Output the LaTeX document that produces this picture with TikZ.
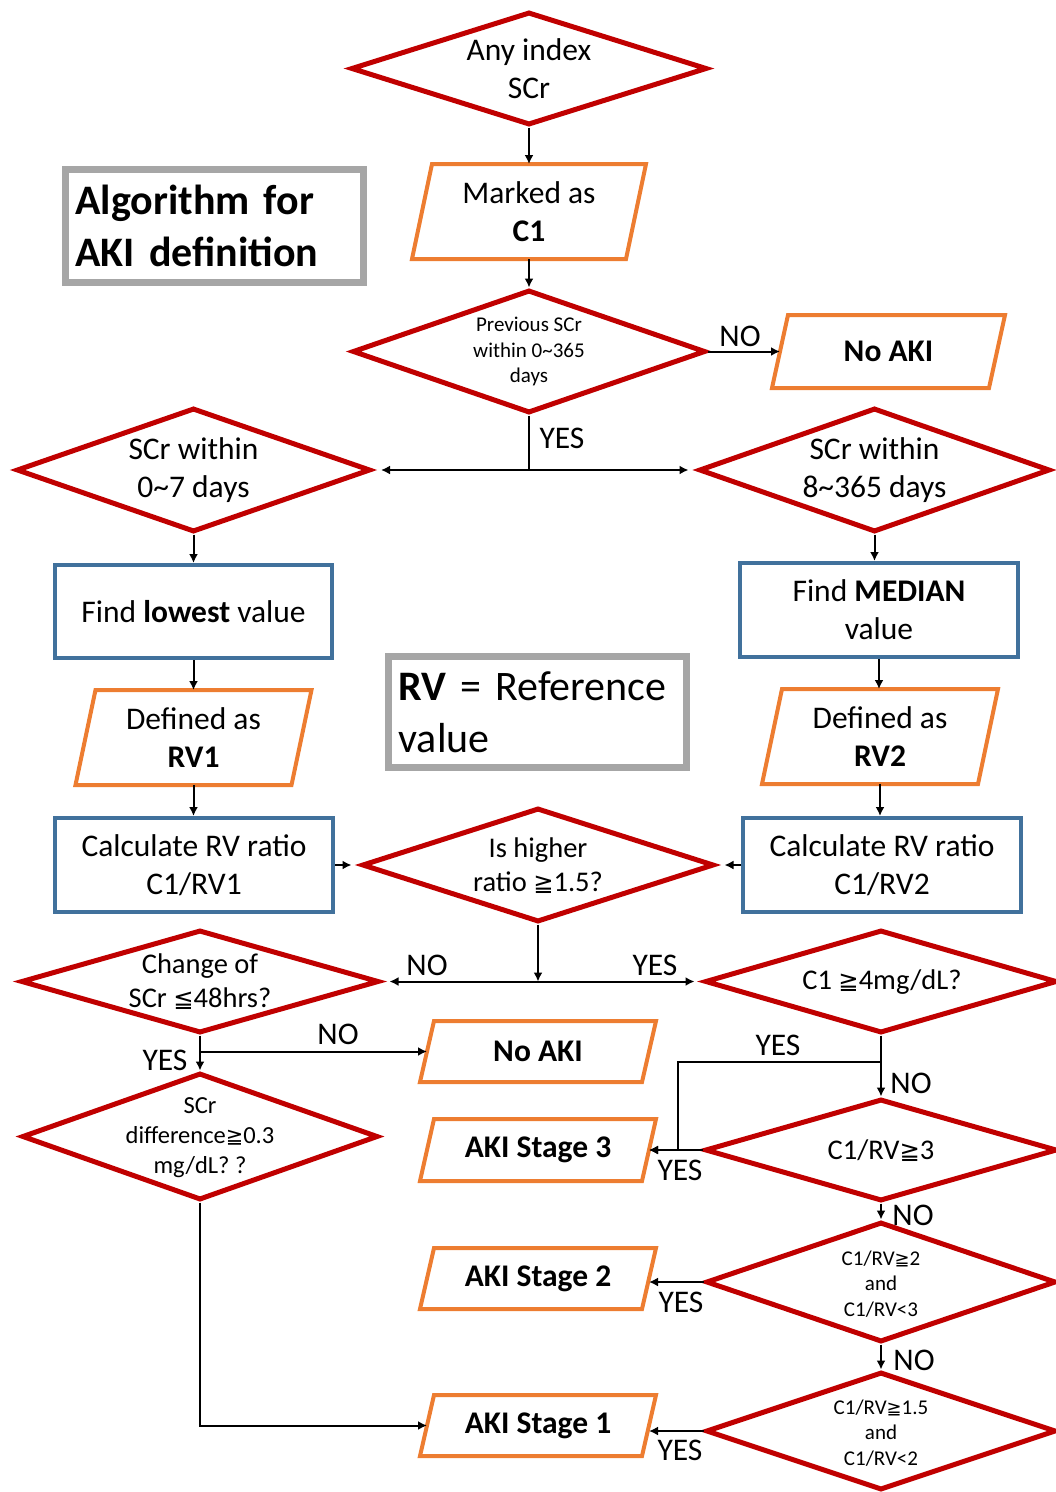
\documentclass[tikz,border=0pt]{standalone}
\usepackage{fontspec}
\setmainfont{Carlito}
\newfontfamily\GeFont[Scale=0.85]{DejaVu Sans}
\usetikzlibrary{shapes.geometric,arrows.meta,calc}
\definecolor{dred}{HTML}{C00000}
\definecolor{orng}{HTML}{ED7D31}
\definecolor{sblue}{HTML}{41719C}
\definecolor{lgray}{HTML}{A6A6A6}
\newcommand\GEQ{{\GeFont\char"2267}}
\newcommand\LEQ{{\GeFont\char"2266}}
\newcommand\FsMain{\fontsize{31.5}{38}\selectfont}
\newcommand\FsMid{\fontsize{28.5}{34}\selectfont}
\newcommand\FsDiff{\fontsize{24.5}{30}\selectfont}
\newcommand\FsSmall{\fontsize{21}{25.5}\selectfont}
\newcommand\FsBig{\fontsize{42}{52}\selectfont}
\newcommand\PARA[2]{\draw[draw=orng,line width=4pt] ($(#1.south west)+(-#2,0)$) -- ($(#1.south east)+(-#2,0)$) -- ($(#1.north east)+(#2,0)$) -- ($(#1.north west)+(#2,0)$) -- cycle;}
\begin{document}
\begin{tikzpicture}[x=1pt,y=-1pt,
  dshape/.style 2 args={shape=diamond,draw=dred,line width=5pt,inner sep=0pt,minimum width=#1,minimum height=#2},
  dtext/.style={align=center,inner sep=0pt},
  pshape/.style 2 args={shape=rectangle,inner sep=0pt,outer sep=0pt,minimum width=#1,minimum height=#2,align=center,font=\FsMain},
  bshape/.style 2 args={shape=rectangle,draw=sblue,line width=4pt,inner sep=0pt,minimum width=#1,minimum height=#2,align=center,font=\FsMain},
  gshape/.style={shape=rectangle,draw=lgray,line width=7pt,inner xsep=10pt,inner ysep=0pt,text width=278pt,align=left,font=\FsBig},
  ln/.style={line width=2pt,draw=black},
  arr/.style={ln,-{Latex[length=9pt,width=9pt]}},
  tip/.style={shorten >=8pt},
  lab/.style={font=\FsMain,inner sep=0pt}]
\useasboundingbox (0,0) rectangle (1056,1492);

% shapes
\node[dshape={356pt}{113pt}] (any) at (529,68.5) {};
\node[dtext,font=\FsMain] (anyT) at (any) {Any index\\SCr};
\node[pshape={214pt}{95pt}] (mark) at (529,211.5) {Marked as\\\textbf{C1}};
\PARA{mark}{10}
\node[gshape,minimum height=113pt,font=\FsBig\bfseries] (algo) at (214.5,226) {Algorithm for\\AKI definition};
\node[dshape={353pt}{123pt}] (prev) at (529,351.5) {};
\node[dtext,font=\FsSmall] (prevT) at (prev) {Previous SCr\\within 0\textasciitilde365\\days};
\node[pshape={217pt}{73pt},font=\FsMain\bfseries] (noakiA) at (888.5,351.5) {No AKI};
\PARA{noakiA}{8}
\node[dshape={354pt}{124pt}] (d07) at (193.5,470) {};
\node[dtext,font=\FsMain] (d07T) at (d07) {SCr within\\0\textasciitilde7 days};
\node[dshape={351pt}{124pt}] (d8) at (874.5,470) {};
\node[dtext,font=\FsMain] (d8T) at (d8) {SCr within\\8\textasciitilde365 days};
\node[bshape={277pt}{93pt}] (low) at (193.5,611.5) {Find \textbf{lowest} value};
\node[bshape={278pt}{94pt}] (med) at (879,610) {Find \textbf{MEDIAN}\\value};
\node[pshape={216pt}{95pt}] (rv1) at (193.5,737.5) {Defined as\\\textbf{RV1}};
\PARA{rv1}{10}
\node[pshape={216pt}{95pt}] (rv2) at (880,736.5) {Defined as\\\textbf{RV2}};
\PARA{rv2}{10}
\node[gshape,minimum height=111pt] (rvbox) at (537.5,712) {\textbf{RV} = Reference\\value};
\node[bshape={278pt}{94pt}] (calc1) at (194,865) {Calculate RV ratio\\C1/RV1};
\node[bshape={278pt}{94pt}] (calc2) at (882,865) {Calculate RV ratio\\C1/RV2};
\node[dshape={352pt}{114pt}] (hi) at (538,865) {};
\node[dtext,font=\FsMid] (hiT) at (538,866) {Is higher\\ratio \GEQ1.5?};
\node[dshape={358pt}{103pt}] (chg) at (200,981.5) {};
\node[dtext,font=\FsMid] (chgT) at (200,982) {Change of\\SCr \LEQ48hrs?};
\node[dshape={352pt}{103pt}] (c4) at (881,981.5) {};
\node[dtext,font=\FsMid] (c4T) at (882,982) {C1 \GEQ4mg/dL?};
\node[pshape={222pt}{61pt},font=\FsMain\bfseries] (noakiB) at (538,1051.5) {No AKI};
\PARA{noakiB}{7}
\node[dshape={356pt}{127pt}] (diff) at (200,1136.5) {};
\node[dtext,font=\FsDiff] (diffT) at (200,1138) {SCr\\difference\GEQ0.3\\mg/dL? ?};
\node[pshape={222pt}{62pt},font=\FsMain\bfseries] (aki3) at (538,1150) {AKI Stage 3};
\PARA{aki3}{7}
\node[dshape={352pt}{102pt}] (r3) at (881,1150) {};
\node[dtext,font=\FsMid] (r3T) at (881,1151) {C1/RV\GEQ3};
\node[pshape={222pt}{61pt},font=\FsMain\bfseries] (aki2) at (538,1278.5) {AKI Stage 2};
\PARA{aki2}{7}
\node[dshape={350pt}{120pt}] (r2) at (881,1282) {};
\node[dtext,font=\FsSmall] (r2T) at (881,1284) {C1/RV\GEQ2\\and\\C1/RV<3};
\node[pshape={222pt}{61pt},font=\FsMain\bfseries] (aki1) at (538,1425.5) {AKI Stage 1};
\PARA{aki1}{7}
\node[dshape={350pt}{118pt}] (r15) at (881,1431) {};
\node[dtext,font=\FsSmall] (r15T) at (881,1433) {C1/RV\GEQ1.5\\and\\C1/RV<2};

% junctions
\coordinate (j1) at (529,470);
\coordinate (j2) at (538,981.5);
\coordinate (j3) at (200,1051.5);
\coordinate (j4) at (881,1062);
\coordinate (k) at (678,1062);

% connectors
\draw[arr] (any.south) -- (mark.north);
\draw[arr] (mark.south) -- (prev.north);
\draw[arr] (prev.east) -- (noakiA.west);
\draw[ln] (prev.south) -- (j1);
\draw[arr,tip] (j1) -- (d07.east);
\draw[arr,tip] (j1) -- (d8.west);
\draw[arr] (d07.south) -- (low.north);
\draw[arr] (low.south) -- (low.south |- rv1.north);
\draw[arr] (rv1.south) -- (rv1.south |- calc1.north);
\draw[arr] (d8.south) -- (d8.south |- med.north);
\draw[arr] (med.south) -- (med.south |- rv2.north);
\draw[arr] (rv2.south) -- (rv2.south |- calc2.north);
\draw[arr,tip] (calc1.east) -- (hi.west);
\draw[arr,tip] (calc2.west) -- (hi.east);
\draw[arr] (hi.south) -- (j2);
\draw[arr,tip] (j2) -- (chg.east);
\draw[arr,tip] (j2) -- (c4.west);
\draw[arr] (chg.south) -- (diff.north);
\draw[arr] (j3) -- (noakiB.west);
\draw[arr] (diff.south) |- (aki1.west);
\draw[arr] (c4.south) -- (r3.north);
\draw[arr] (j4) -- (k) |- (aki3.east);
\draw[arr] (r3.west) -- (aki3.east);
\draw[arr] (r3.south) -- (r2.north);
\draw[arr] (r2.west) -- (aki2.east |- r2.west);
\draw[arr] (r2.south) -- (r15.north);
\draw[arr] (r15.west) -- (aki1.east |- r15.west);

% labels
\node[lab] (lNo1) at (740,336) {NO};
\node[lab] (lYes1) at (562,438) {YES};
\node[lab] (lNo2) at (427,965) {NO};
\node[lab] (lYes2) at (655,965) {YES};
\node[lab] (lYes3) at (165,1060) {YES};
\node[lab] (lNo3) at (338,1034) {NO};
\node[lab] (lYes4) at (778,1045) {YES};
\node[lab] (lNo4) at (911,1083) {NO};
\node[lab] (lYes5) at (680,1170) {YES};
\node[lab] (lNo5) at (913,1215) {NO};
\node[lab] (lYes6) at (681,1302) {YES};
\node[lab] (lNo6) at (914,1360) {NO};
\node[lab] (lYes7) at (680,1450) {YES};
\end{tikzpicture}
\end{document}
